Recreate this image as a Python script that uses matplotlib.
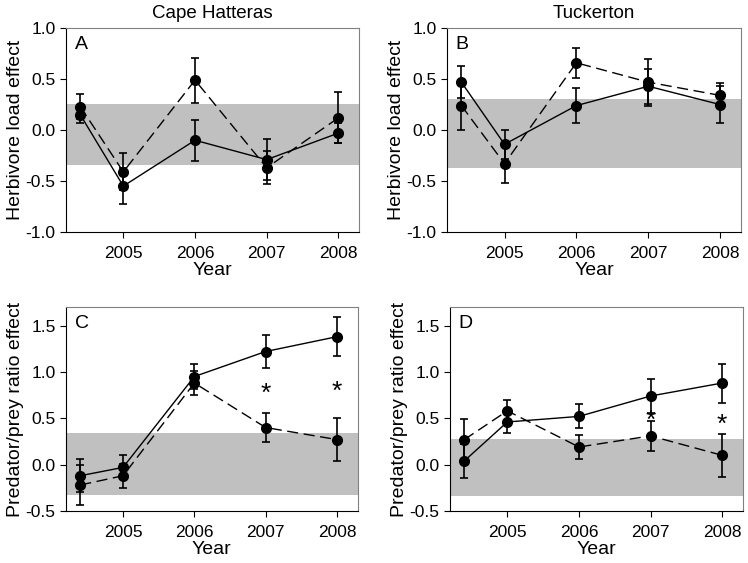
import matplotlib
matplotlib.use("Agg")
import matplotlib.pyplot as plt

plt.rcParams['font.family'] = ['Liberation Sans', 'DejaVu Sans']

x_years = [2004.4, 2005, 2006, 2007, 2008]
tick_years = [2005, 2006, 2007, 2008]

# herbivore load effect (top row)
herb_cape_solid = [0.15, -0.55, -0.10, -0.29, -0.03]
herb_cape_solid_err = [0.08, 0.18, 0.20, 0.20, 0.10]
herb_cape_dash = [0.23, -0.41, 0.49, -0.37, 0.12]
herb_cape_dash_err = [0.12, 0.18, 0.22, 0.16, 0.25]
herb_cape_band = [-0.34, 0.26]

herb_tuck_solid = [0.47, -0.14, 0.24, 0.43, 0.25]
herb_tuck_solid_err = [0.16, 0.14, 0.17, 0.17, 0.18]
herb_tuck_dash = [0.24, -0.33, 0.66, 0.47, 0.34]
herb_tuck_dash_err = [0.24, 0.19, 0.15, 0.23, 0.12]
herb_tuck_band = [-0.37, 0.30]

# predator/prey ratio effect (bottom row)
pred_cape_solid = [-0.12, -0.03, 0.95, 1.22, 1.38]
pred_cape_solid_err = [0.18, 0.13, 0.13, 0.18, 0.21]
pred_cape_dash = [-0.22, -0.12, 0.88, 0.40, 0.27]
pred_cape_dash_err = [0.22, 0.13, 0.13, 0.16, 0.23]
pred_cape_band = [-0.33, 0.34]
pred_cape_stars = {2007: 0.76, 2008: 0.79}

pred_tuck_solid = [0.04, 0.46, 0.52, 0.74, 0.88]
pred_tuck_solid_err = [0.18, 0.12, 0.13, 0.18, 0.21]
pred_tuck_dash = [0.27, 0.58, 0.19, 0.31, 0.10]
pred_tuck_dash_err = [0.22, 0.12, 0.13, 0.16, 0.23]
pred_tuck_band = [-0.34, 0.28]
pred_tuck_stars = {2007: 0.47, 2008: 0.43}

fig = plt.figure(figsize=(7.48, 5.63), dpi=100)

def drawPanel(rect, letter, solid, solid_err, dash, dash_err, band, ylim, yticks, ylabel, title=None, stars=None):
    ax = fig.add_axes(rect)
    ax.axhspan(band[0], band[1], color='#c0c0c0', lw=0, zorder=0)
    ax.errorbar(x_years, dash, yerr=dash_err, color='black', lw=1, ls=(0, (8, 4)),
                marker='o', ms=7, capsize=3, elinewidth=1.2, capthick=1.2, zorder=3)
    ax.errorbar(x_years, solid, yerr=solid_err, color='black', lw=1, ls='-',
                marker='o', ms=7, capsize=3, elinewidth=1.2, capthick=1.2, zorder=3)
    if stars:
        for yr, yv in stars.items():
            ax.text(yr, yv, '*', ha='center', va='center', fontsize=19)
    ax.set_xlim(2004.2, 2008.29)
    ax.set_ylim(ylim)
    ax.set_xticks(tick_years)
    ax.set_yticks(yticks)
    ax.set_yticklabels(['%.1f' % v for v in yticks])
    ax.tick_params(axis='both', direction='out', length=4, labelsize=12.5, top=False, right=False)
    ax.tick_params(axis='x', pad=6)
    for s in ['top', 'right']:
        ax.spines[s].set_color('#808080')
    ax.set_xlabel('Year', fontsize=14, labelpad=1)
    ax.set_ylabel(ylabel, fontsize=14, labelpad=1)
    ax.text(0.03, 0.96, letter, transform=ax.transAxes, ha='left', va='top', fontsize=14)
    if title:
        ax.set_title(title, fontsize=13.5, pad=7)
    return ax

herb_ticks = [-1.0, -0.5, 0.0, 0.5, 1.0]
pred_ticks = [-0.5, 0.0, 0.5, 1.0, 1.5]

drawPanel([0.0882, 0.588, 0.392, 0.362], 'A', herb_cape_solid, herb_cape_solid_err,
          herb_cape_dash, herb_cape_dash_err, herb_cape_band, (-1.0, 1.0), herb_ticks,
          'Herbivore load effect', title='Cape Hatteras')
drawPanel([0.5976, 0.588, 0.393, 0.362], 'B', herb_tuck_solid, herb_tuck_solid_err,
          herb_tuck_dash, herb_tuck_dash_err, herb_tuck_band, (-1.0, 1.0), herb_ticks,
          'Herbivore load effect', title='Tuckerton')
drawPanel([0.0882, 0.0924, 0.390, 0.3623], 'C', pred_cape_solid, pred_cape_solid_err,
          pred_cape_dash, pred_cape_dash_err, pred_cape_band, (-0.5, 1.7), pred_ticks,
          'Predator/prey ratio effect', stars=pred_cape_stars)
drawPanel([0.6016, 0.0924, 0.3917, 0.3623], 'D', pred_tuck_solid, pred_tuck_solid_err,
          pred_tuck_dash, pred_tuck_dash_err, pred_tuck_band, (-0.5, 1.7), pred_ticks,
          'Predator/prey ratio effect', stars=pred_tuck_stars)

fig.savefig('out.png', dpi=100)
